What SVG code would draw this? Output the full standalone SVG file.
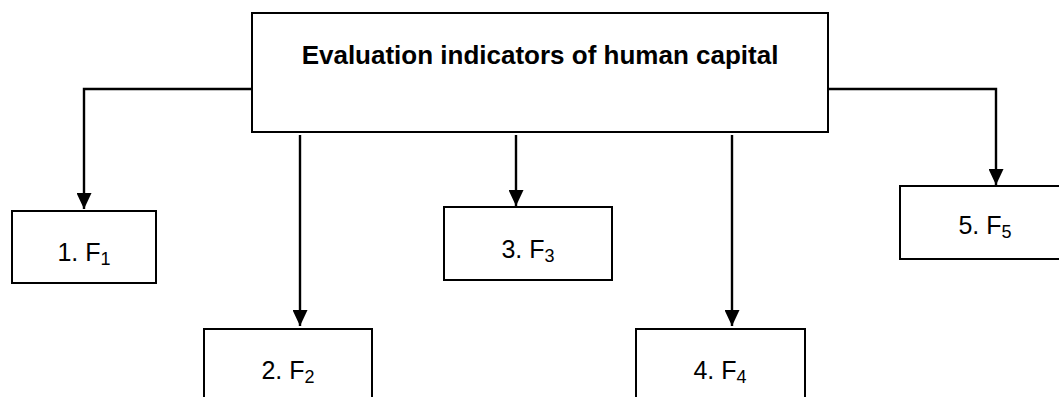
<svg xmlns="http://www.w3.org/2000/svg" width="1059" height="397" viewBox="0 0 1059 397">
  <style>
    .box { fill: #ffffff; stroke: #000000; stroke-width: 2; }
    .edge { fill: none; stroke: #000000; stroke-width: 2.4; }
    .title { font-family: "Liberation Sans", Arial, sans-serif; font-size: 26px; font-weight: bold; fill: #000000; text-anchor: middle; }
    .label { font-family: "Liberation Sans", Arial, sans-serif; font-size: 25px; fill: #000000; text-anchor: middle; }
    .sub { font-size: 18px; }
  </style>
  <defs>
    <marker id="arrow" viewBox="0 0 16 15" refX="16" refY="7.5" markerWidth="16" markerHeight="15" markerUnits="userSpaceOnUse" orient="auto">
      <path d="M0,0 L16,7.5 L0,15 Z" fill="#000000"/>
    </marker>
  </defs>

  <g id="connectors">
    <path class="edge" d="M252,89 H84 V209" marker-end="url(#arrow)"/>
    <path class="edge" d="M300,135 V326" marker-end="url(#arrow)"/>
    <path class="edge" d="M516,135 V206" marker-end="url(#arrow)"/>
    <path class="edge" d="M732,135 V326" marker-end="url(#arrow)"/>
    <path class="edge" d="M828,89 H996 V185" marker-end="url(#arrow)"/>
  </g>

  <g id="root">
    <rect class="box" x="252" y="13" width="576" height="119"/>
    <text class="title" x="540" y="64">Evaluation indicators of human capital</text>
  </g>

  <g id="f1">
    <rect class="box" x="12" y="211" width="144" height="72"/>
    <text class="label" x="84" y="261">1. F<tspan class="sub" dy="4">1</tspan></text>
  </g>

  <g id="f2">
    <rect class="box" x="204" y="329" width="168" height="80"/>
    <text class="label" x="288" y="379">2. F<tspan class="sub" dy="4">2</tspan></text>
  </g>

  <g id="f3">
    <rect class="box" x="444" y="207" width="168" height="73"/>
    <text class="label" x="528" y="258">3. F<tspan class="sub" dy="4">3</tspan></text>
  </g>

  <g id="f4">
    <rect class="box" x="636" y="329" width="169" height="80"/>
    <text class="label" x="720" y="379">4. F<tspan class="sub" dy="4">4</tspan></text>
  </g>

  <g id="f5">
    <rect class="box" x="900" y="186" width="170" height="73"/>
    <text class="label" x="985" y="234">5. F<tspan class="sub" dy="4">5</tspan></text>
  </g>
</svg>
